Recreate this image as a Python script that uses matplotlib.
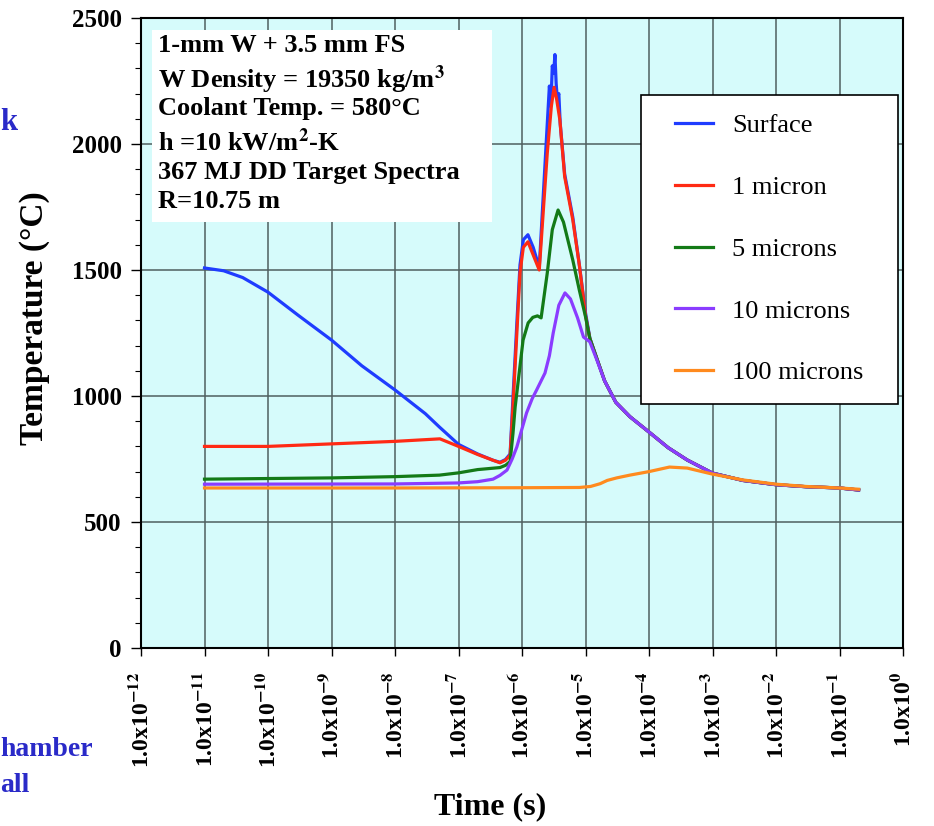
import matplotlib
matplotlib.use("Agg")
import matplotlib.pyplot as plt
from matplotlib.patches import Rectangle

plt.rcParams['font.family'] = ['Liberation Serif', 'DejaVu Serif']
plt.rcParams['mathtext.fontset'] = 'stix'
plt.rcParams['mathtext.default'] = 'bf'

# temperature histories (time in s, temperature in C) at several depths
surf_t = [1e-11, 2e-11, 4e-11, 1e-10, 3e-10, 1e-9, 3e-9, 1e-8, 3e-8, 5e-8, 1e-7, 2e-7,
          3.5e-7, 4.5e-7, 5.5e-7, 6.5e-7, 7.2e-7, 8.3e-7, 9.3e-7, 1.05e-6, 1.24e-6, 1.5e-6,
          1.87e-6, 2.2e-6, 2.5e-6, 2.7e-6, 2.85e-6, 3.0e-6, 3.15e-6, 3.3e-6, 3.45e-6, 3.6e-6,
          3.8e-6, 4.0e-6, 4.7e-6, 6.3e-6, 8e-6, 1e-5, 1.17e-5, 1.5e-5, 2e-5, 3e-5, 5e-5,
          1e-4, 2e-4, 4e-4, 1e-3, 3e-3, 1e-2, 3e-2, 1e-1, 2e-1]
surf_T = [1508, 1497, 1470, 1412, 1320, 1222, 1120, 1024, 930, 877, 808, 770,
          745, 737, 748, 770, 990, 1290, 1520, 1620, 1640, 1590,
          1510, 1830, 2080, 2230, 2150, 2310, 2280, 2355, 2240, 2180,
          2200, 2080, 1880, 1710, 1520, 1330, 1230, 1150, 1060, 975, 918,
          857, 795, 746, 694, 665, 648, 640, 635, 627]

red_t = [1e-11, 1e-10, 1e-9, 1e-8, 5.1e-8, 1e-7, 2e-7, 3.5e-7, 4.5e-7, 5.5e-7, 6.5e-7,
         7.2e-7, 8.3e-7, 9.3e-7, 1.05e-6, 1.24e-6, 1.5e-6, 1.87e-6, 2.2e-6, 2.5e-6, 2.9e-6,
         3.2e-6, 3.5e-6, 3.95e-6, 4.7e-6, 6.3e-6, 8e-6, 1e-5, 1.17e-5, 1.5e-5, 2e-5, 3e-5,
         5e-5, 1e-4, 2e-4, 4e-4, 1e-3, 3e-3, 1e-2, 3e-2, 1e-1, 2e-1]
red_T = [800, 800, 810, 820, 830, 800, 768, 745, 735, 745, 765,
         956, 1250, 1490, 1590, 1612, 1560, 1500, 1760, 1964, 2150,
         2225, 2180, 2095, 1870, 1700, 1520, 1320, 1228, 1150, 1060, 975,
         918, 857, 795, 746, 694, 665, 648, 640, 635, 627]

green_t = [1e-11, 1e-9, 1e-8, 5e-8, 1e-7, 2e-7, 4.5e-7, 5.5e-7, 6.5e-7, 7.2e-7, 7.8e-7,
           1.04e-6, 1.25e-6, 1.48e-6, 1.75e-6, 2.0e-6, 2.5e-6, 3.0e-6, 3.7e-6, 4.5e-6,
           6.3e-6, 8e-6, 1e-5, 1.17e-5, 1.5e-5, 2e-5, 3e-5, 5e-5, 1e-4, 2e-4, 4e-4,
           1e-3, 3e-3, 1e-2, 3e-2, 1e-1, 2e-1]
green_T = [670, 675, 680, 686, 695, 708, 716, 725, 740, 850, 956,
           1222, 1290, 1312, 1318, 1310, 1488, 1660, 1738, 1690,
           1540, 1420, 1315, 1228, 1150, 1060, 975, 918, 857, 795, 746,
           694, 665, 648, 640, 635, 627]

purple_t = [1e-11, 1e-8, 1e-7, 2e-7, 3.5e-7, 4.5e-7, 5.8e-7, 7e-7, 8.3e-7, 1.0e-6, 1.18e-6,
            1.45e-6, 1.7e-6, 2.3e-6, 2.7e-6, 3.1e-6, 3.8e-6, 4.75e-6, 5.8e-6, 7.5e-6, 9.3e-6,
            1.17e-5, 1.5e-5, 2e-5, 3e-5, 5e-5, 1e-4, 2e-4, 4e-4, 1e-3, 3e-3, 1e-2, 3e-2,
            1e-1, 2e-1]
purple_T = [650, 651, 655, 660, 670, 685, 706, 750, 798, 870, 933,
            990, 1024, 1091, 1160, 1250, 1360, 1409, 1385, 1310, 1234,
            1215, 1145, 1060, 975, 918, 857, 795, 746, 694, 665, 648, 640,
            635, 627]

orange_t = [1e-11, 1e-8, 1e-6, 8e-6, 1.2e-5, 1.7e-5, 2.2e-5, 3.1e-5, 5e-5, 1e-4, 2.1e-4,
            4e-4, 1e-3, 3e-3, 1e-2, 3e-2, 1e-1, 2e-1]
orange_T = [635, 635, 636, 637, 641, 652, 665, 675, 686, 700, 718,
            714, 690, 667, 650, 641, 635, 630]

series = [
    ("Surface", surf_t, surf_T, "#1f3cff"),
    ("1 micron", red_t, red_T, "#ff2a14"),
    ("5 microns", green_t, green_T, "#137a17"),
    ("10 microns", purple_t, purple_T, "#8a3cff"),
    ("100 microns", orange_t, orange_T, "#ff8a1e"),
]

decades = list(range(-12, 1))
xtick_labels = ["1.0x10$^{%d}$" % d for d in decades]

notes = ["1-mm W + 3.5 mm FS",
         "W Density = 19350 kg/m$^3$",
         "Coolant Temp. = 580\u00b0C",
         "h =10 kW/m$^2$-K",
         "367 MJ DD Target Spectra",
         "R=10.75 m"]
note_baselines = [52, 88, 115, 151, 179, 208]

W, H = 934, 826
fig = plt.figure(figsize=(W / 100, H / 100), dpi=100)
ax = fig.add_axes([141 / W, 1 - 648 / H, (903 - 141) / W, (648 - 18) / H])
ax.set_facecolor("#d6fbfb")

for name, t, T, c in series:
    ax.plot(t, T, color=c, lw=2.3, label=name, zorder=3)

ax.set_xscale("log")
ax.set_xlim(1e-12, 1e0)
ax.set_ylim(0, 2500)
ax.set_xticks([10.0 ** d for d in decades])
ax.set_xticklabels(xtick_labels, rotation=90, fontsize=17, fontweight="bold")
ax.set_yticks(range(0, 2501, 500))
ax.set_yticks(range(0, 2501, 100), minor=True)
ax.set_yticklabels([str(v) for v in range(0, 2501, 500)], fontsize=18, fontweight="bold")
ax.tick_params(axis="x", which="major", direction="out", length=6, width=1, pad=11)
ax.tick_params(axis="x", which="minor", direction="in", length=4, width=0.8)
ax.tick_params(axis="y", which="major", direction="out", length=7, width=1, pad=7)
ax.tick_params(axis="y", which="minor", direction="out", length=4, width=0.8)
ax.grid(True, which="major", color="#4f5f5f", lw=1.1, zorder=1)
for s in ax.spines.values():
    s.set_linewidth(1.5)

ax.set_ylabel("Temperature (\u00b0C)", fontsize=24, fontweight="bold")
ax.yaxis.set_label_coords((50 - 141) / (903 - 141), (648 - 318) / (648 - 18))
ax.set_xlabel("Time (s)", fontsize=23, fontweight="bold")
ax.xaxis.set_label_coords((490 - 141) / (903 - 141), (648 - 792) / (648 - 18))

# info box in the upper left
def ax_x(px):
    return (px - 141) / (903 - 141)

def ax_y(py):
    return (648 - py) / (648 - 18)

ax.add_patch(Rectangle((ax_x(152), ax_y(222)), ax_x(492) - ax_x(152), ax_y(30) - ax_y(222),
                       transform=ax.transAxes, facecolor="white", edgecolor="none", zorder=4))
for txt, yb in zip(notes, note_baselines):
    ax.text(ax_x(158), ax_y(yb), txt, transform=ax.transAxes, fontsize=19,
            fontweight="bold", va="baseline", ha="left", zorder=5)

# legend: white framed box with the entries placed inside it
ax.add_patch(Rectangle((641 / W, 1 - 404 / H), (898 - 641) / W, (404 - 95) / H,
                       transform=fig.transFigure, facecolor="white", edgecolor="black",
                       lw=1.2, zorder=5, clip_on=False))
leg = ax.legend(loc="upper left", bbox_to_anchor=(675 / W, 1 - 114 / H),
                bbox_transform=fig.transFigure, borderaxespad=0, frameon=False,
                fontsize=19, labelspacing=1.45, handlelength=1.44, handletextpad=0.72,
                borderpad=0)
leg.set_zorder(6)

# slide text fragments along the left edge
blue_txt = "#2a2ac8"
fig.text(0, 1 - 122 / H, "k", fontsize=22, fontweight="bold", color=blue_txt,
         ha="left", va="center")
fig.text(0, 1 - 750 / H, "hamber", fontsize=20, fontweight="bold", color=blue_txt,
         ha="left", va="center")
fig.text(0, 1 - 786 / H, "all", fontsize=20, fontweight="bold", color=blue_txt,
         ha="left", va="center")

fig.savefig("out.png", dpi=100)
